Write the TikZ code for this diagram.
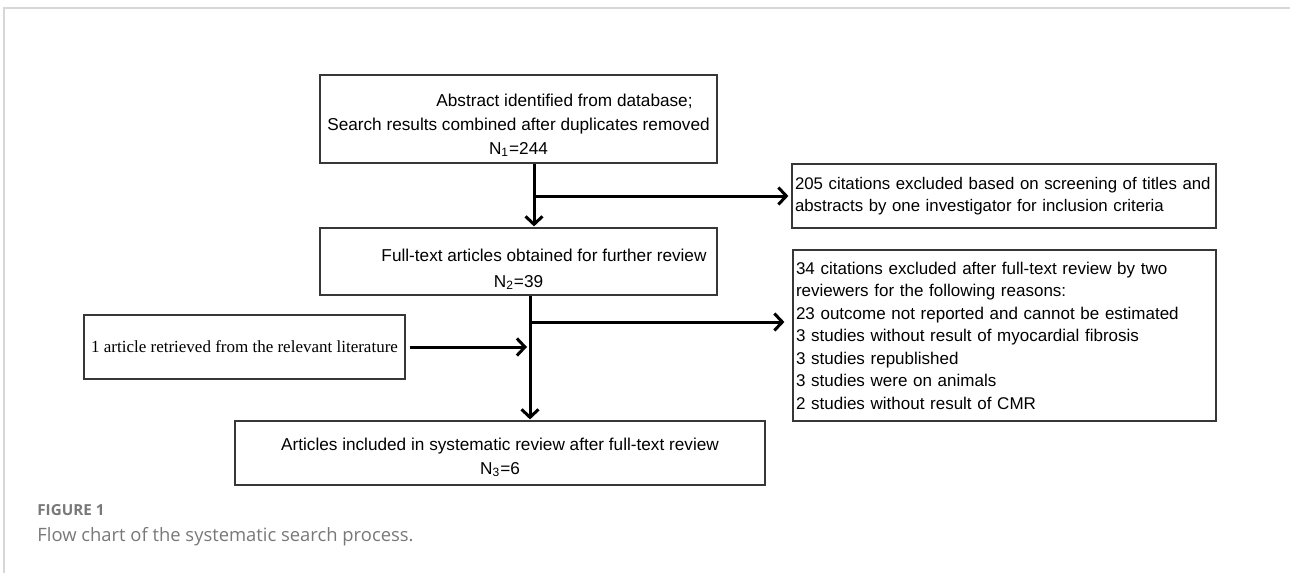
\documentclass[tikz,border=0pt]{standalone}
\usepackage{fontspec}
\setmainfont{Liberation Sans}
\newfontfamily\timesfont{Liberation Serif}
\newfontfamily\capfont{Open Sans}
\usetikzlibrary{arrows.meta,positioning}
\definecolor{framegray}{RGB}{215,215,215}
\definecolor{capgray}{RGB}{120,120,120}
\definecolor{boxline}{RGB}{55,55,55}
\tikzset{
  flowbox/.style={draw=boxline, line width=0.6pt, inner sep=0pt, font=\fontsize{8.6}{11.8}\selectfont},
  notebox/.style={flowbox, inner xsep=1.5pt, align=left},
  arr/.style={-{Straight Barb[length=4pt,width=8.5pt]}, line width=1.5pt},
  caption/.style={anchor=west, inner sep=0pt, text=capgray},
}
\begin{document}
\begin{tikzpicture}[x=0.5pt,y=-0.5pt]
\useasboundingbox (0,0) rectangle (1290,573);
% page frame
\draw[framegray, line width=1pt] (3.5,573) -- (3.5,8) -- (1290,8);

% main column
\node[flowbox, minimum width=198.5pt, minimum height=44pt, align=center] (ident) at (518.5,119)
  {\rule{0pt}{12.5pt}\hspace*{46pt}Abstract identified from database;\\Search results combined after duplicates removed\\N\textsubscript{1}=244};
\node[flowbox, minimum width=198.5pt, minimum height=33.5pt, align=center] (fulltext) at (518.5,261.5)
  {\rule{0pt}{14pt}\hspace*{25.5pt}Full-text articles obtained for further review\\[1.5pt]N\textsubscript{2}=39};
\node[flowbox, minimum width=265pt, minimum height=32pt, align=center] (included) at (500,453)
  {\rule{0pt}{10.5pt}Articles included in systematic review after full-text review\\N\textsubscript{3}=6};

% side boxes
\node[notebox, text width=209pt, minimum height=32pt, font=\fontsize{8.4}{11}\selectfont] (screened) at (1004,196)
  {\mbox{205 citations excluded based on screening of titles and}\\abstracts by one investigator for inclusion criteria};
\node[notebox, text width=208.5pt, minimum height=85.5pt, font=\fontsize{8.5}{11.25}\selectfont] (excluded) at (1004.5,335.5)
  {34 citations excluded after full-text review by two\\reviewers for the following reasons:\\23 outcome not reported and cannot be estimated\\3 studies without result of myocardial fibrosis\\3 studies republished\\3 studies were on animals\\2 studies without result of CMR};
\node[flowbox, minimum width=160.5pt, minimum height=32pt, font=\timesfont\fontsize{8.5}{10}\selectfont] (extra) at (244.5,347)
  {1 article retrieved from the relevant literature};

% connectors
\coordinate (split1) at (534,196);
\coordinate (split2) at (530,322);
\draw[arr, shorten >=0.5pt] (ident.south -| split1) -- (fulltext.north -| split1);
\draw[arr, shorten >=1.5pt] (split1) -- (screened.west |- split1);
\draw[arr, shorten >=0.5pt] (fulltext.south -| split2) -- (included.north -| split2);
\draw[arr, shorten >=4pt] (split2) -- (excluded.west |- split2);
\draw[arr, shorten <=2pt, shorten >=1.5pt] (extra.east) -- (extra.east -| split2);

% caption
\node[caption, font=\capfont\fontsize{7.6}{9}\selectfont\bfseries] (figlabel) at (37,510) {FIGURE 1};
\node[caption, font=\capfont\fontsize{9.2}{11}\selectfont] (figtitle) at (37,537) {Flow chart of the systematic search process.};
\end{tikzpicture}
\end{document}
